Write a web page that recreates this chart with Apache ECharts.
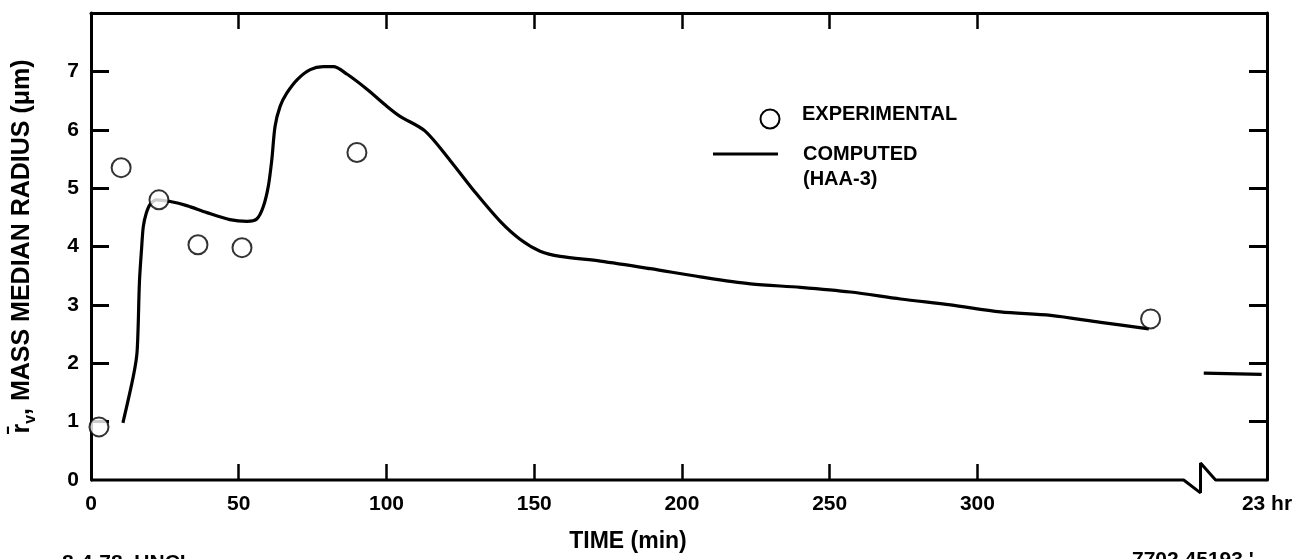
<!DOCTYPE html>
<html><head><meta charset="utf-8">
<script src="https://cdn.jsdelivr.net/npm/echarts@6/dist/echarts.min.js"></script>
<style>html,body{margin:0;padding:0;background:#fff}#c{width:1303px;height:559px}</style>
</head><body><div id="c"></div>
<script>
// ---- data ----
const expTime   = [2.7, 10.2, 23.0, 36.2, 51.1, 90.0, 358.6];
const expRadius = [0.91, 5.35, 4.80, 4.03, 3.98, 5.61, 2.76];

const compTime   = [10.8, 14.3, 15.6, 16.4, 17.1, 17.7, 18.7, 20.0, 22.2, 26.8, 32.4, 39.2, 47.0, 52.8, 56.1, 58.3, 60.0, 61.2, 62.3, 64.0, 66.3, 69.8, 74.2, 78.6, 82.0, 86.7, 93.5, 100.2, 104.6, 113.0, 121.6, 130.0, 138.5, 145.3, 152.0, 158.8, 172.4, 189.3, 206.2, 223.2, 240.1, 257.0, 274.0, 290.9, 307.8, 324.8, 341.7, 358.0];
const compRadius = [0.98, 1.77, 2.20, 3.40, 3.95, 4.34, 4.57, 4.72, 4.80, 4.77, 4.70, 4.58, 4.46, 4.43, 4.47, 4.68, 5.03, 5.49, 6.06, 6.40, 6.63, 6.86, 7.03, 7.08, 7.08, 6.95, 6.69, 6.40, 6.23, 5.98, 5.47, 4.93, 4.43, 4.12, 3.92, 3.83, 3.75, 3.62, 3.48, 3.36, 3.30, 3.22, 3.10, 3.00, 2.88, 2.82, 2.70, 2.59];

const dayTime   = [376.6, 396.2];   // the "23 hr" segment
const dayRadius = [1.83, 1.81];

const xTickValues  = [50, 100, 150, 200, 250, 300];
const xLabelValues = [0, 50, 100, 150, 200, 250, 300, 398];
const xLabelNames  = ['0', '50', '100', '150', '200', '250', '300', '23 hr'];
const yTickValues  = [1, 2, 3, 4, 5, 6, 7];
const yLabelValues = [0, 1, 2, 3, 4, 5, 6, 7];

// axis break on the time axis
const breakTime  = [0, 369.8, 375.5, 375.5, 380.6, 398];
const breakLevel = [0, 0, -0.22, 0.29, 0, 0];

const FONT = "'Liberation Sans', Arial, Helvetica, sans-serif";
const zip = (a, b) => a.map((v, i) => [v, b[i]]);

const chart = echarts.init(document.getElementById('c'), null, {renderer: 'canvas'});
const black = '#000';
const option = {
  backgroundColor: '#fff',
  animation: false,
  grid: {left: 91, right: 36, top: 13, bottom: 79},
  xAxis: [
    {
      type: 'value', min: 0, max: 398, position: 'bottom', splitLine: {show: false},
      axisLine: {show: false, onZero: false},
      axisTick: {show: true, inside: true, length: 16, customValues: xTickValues, lineStyle: {color: black, width: 2.5}},
      axisLabel: {
        customValues: xLabelValues, margin: 14, color: black,
        fontFamily: FONT, fontSize: 21, fontWeight: 'bold',
        formatter: v => { const i = xLabelValues.indexOf(v); return i >= 0 ? xLabelNames[i] : ''; }
      }
    },
    {
      type: 'value', min: 0, max: 398, position: 'top', splitLine: {show: false},
      axisLine: {show: true, onZero: false, lineStyle: {color: black, width: 3}},
      axisTick: {show: true, inside: true, length: 16, customValues: xTickValues, lineStyle: {color: black, width: 2.5}},
      axisLabel: {show: false}
    }
  ],
  yAxis: [
    {
      type: 'value', min: 0, max: 8, interval: 1, position: 'left', splitLine: {show: false},
      axisLine: {show: true, onZero: false, lineStyle: {color: black, width: 3}},
      axisTick: {show: true, inside: true, length: 18, customValues: yTickValues, lineStyle: {color: black, width: 3}},
      axisLabel: {customValues: yLabelValues, margin: 12, color: black, fontFamily: FONT, fontSize: 21, fontWeight: 'bold'},
      name: '{r|r\u0304}{v|v}{t|, MASS MEDIAN RADIUS (\u03bcm)}',
      nameLocation: 'middle', nameGap: 52,
      nameTextStyle: {
        color: black,
        rich: {
          r: {fontFamily: FONT, fontSize: 25, fontWeight: 'bold', color: black, lineHeight: 34},
          v: {fontFamily: FONT, fontSize: 16, fontWeight: 'bold', color: black, lineHeight: 16, verticalAlign: 'bottom'},
          t: {fontFamily: FONT, fontSize: 25, fontWeight: 'bold', color: black, lineHeight: 34}
        }
      }
    },
    {
      type: 'value', min: 0, max: 8, interval: 1, position: 'right', splitLine: {show: false},
      axisLine: {show: true, onZero: false, lineStyle: {color: black, width: 3}},
      axisTick: {show: true, inside: true, length: 18, customValues: yTickValues, lineStyle: {color: black, width: 3}},
      axisLabel: {show: false}
    }
  ],
  series: [
    {
      name: 'axis', type: 'line', data: zip(breakTime, breakLevel), clip: false, silent: true,
      showSymbol: false, symbol: 'none', lineStyle: {color: black, width: 3}, z: 1
    },
    {
      name: 'COMPUTED (HAA-3)', type: 'line', data: zip(compTime, compRadius),
      smooth: 0.3,
      showSymbol: false, symbol: 'none', lineStyle: {color: black, width: 3.2}, z: 2
    },
    {
      name: 'COMPUTED 23 hr', type: 'line', data: zip(dayTime, dayRadius),
      showSymbol: false, symbol: 'none', lineStyle: {color: black, width: 3.2}, z: 2
    },
    {
      name: 'EXPERIMENTAL', type: 'scatter', data: zip(expTime, expRadius),
      symbol: 'circle', symbolSize: 19,
      itemStyle: {color: '#fff', borderColor: black, borderWidth: 2}, z: 5
    }
  ],
  graphic: [
    // legend
    {type: 'circle', shape: {cx: 770, cy: 119, r: 9.5}, style: {fill: '#fff', stroke: black, lineWidth: 2}},
    {type: 'text', x: 802, y: 114, style: {text: 'EXPERIMENTAL', fontFamily: FONT, fontSize: 20, fontWeight: 'bold', fill: black, verticalAlign: 'middle'}},
    {type: 'line', shape: {x1: 713, y1: 154, x2: 778, y2: 154}, style: {stroke: black, lineWidth: 3}},
    {type: 'text', x: 803, y: 154, style: {text: 'COMPUTED', fontFamily: FONT, fontSize: 20, fontWeight: 'bold', fill: black, verticalAlign: 'middle'}},
    {type: 'text', x: 803, y: 179, style: {text: '(HAA-3)', fontFamily: FONT, fontSize: 20, fontWeight: 'bold', fill: black, verticalAlign: 'middle'}},
    // axis title
    {type: 'text', x: 628, y: 542, style: {text: 'TIME (min)', fontFamily: FONT, fontSize: 23, fontWeight: 'bold', fill: black, align: 'center', verticalAlign: 'middle'}},
    // clipped footer notes
    {type: 'text', x: 62, y: 553, style: {text: '8-4-78  UNCL', fontFamily: FONT, fontSize: 21, fontWeight: 'bold', fill: black, verticalAlign: 'top'}},
    {type: 'text', x: 1132, y: 550, style: {text: '7702 45193 \u02b9', fontFamily: FONT, fontSize: 21, fontWeight: 'bold', fill: black, verticalAlign: 'top'}}
  ]
};
chart.setOption(option);
</script>
</body></html>
